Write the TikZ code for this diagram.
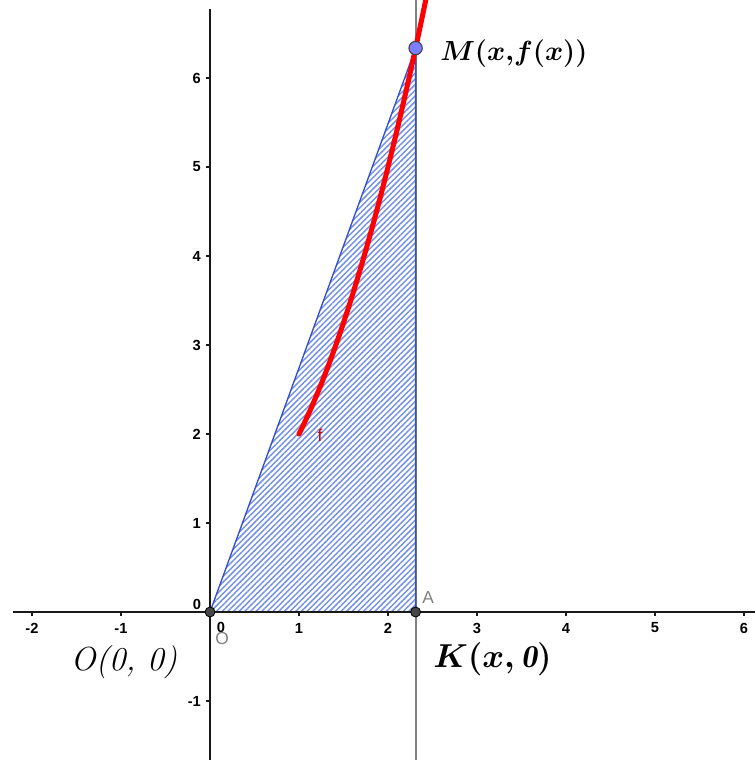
\documentclass[tikz,border=0pt]{standalone}
\usepackage{fontspec}
\newfontfamily\ggb{Liberation Sans}
\usetikzlibrary{patterns.meta}
\definecolor{hatch}{RGB}{115,145,232}
\definecolor{edgeblue}{RGB}{50,80,200}
\definecolor{mpt}{RGB}{125,125,255}
\definecolor{ptgray}{RGB}{70,70,70}
\definecolor{fred}{RGB}{255,0,0}
\begin{document}
\begin{tikzpicture}[x=66.75pt,y=66.75pt,
  axisline/.style={line width=2pt, black!90},
  tickmark/.style={line width=1.1pt, black!90},
  ticklab/.style={font=\ggb\bfseries\fontsize{11}{11}\selectfont, inner sep=0pt},
  ptlab/.style={font=\ggb\fontsize{13}{13}\selectfont, text=black!50, inner sep=0pt},
  biglab/.style={font=\fontsize{24}{24}\selectfont, inner sep=0pt},
  dotpt/.style={circle, draw=black, fill=ptgray, minimum size=7.5pt, inner sep=0pt, line width=0.6pt},
  mdot/.style={circle, draw=black!75, fill=mpt, minimum size=10pt, inner sep=0pt, line width=0.8pt}]
\useasboundingbox (-2.3596,-1.6629) rectangle (6.1124,6.8764);
\def\xk{2.31}
\coordinate (O) at (0,0);
\coordinate (A) at (\xk,0);
\coordinate (M) at (\xk,{\xk*\xk+1});
\coordinate (xl) at (-2.21,0);
\coordinate (xr) at (6.12,0);
\coordinate (yb) at (0,-1.67);
\coordinate (yt) at (0,6.775);
\coordinate (gb) at (\xk,-1.67);
\coordinate (gt) at (\xk,6.88);
% vertical gray line
\draw[black!50, line width=1.4pt] (gb) -- (gt);
% hatched region
\fill[pattern={Lines[angle=45,distance=3pt,line width=1.1pt]}, pattern color=hatch] (O) -- (A) -- (M) -- cycle;
\draw[edgeblue, line width=1pt, line join=round] (O) -- (A) -- (M) -- cycle;
% axes
\draw[axisline] (xl) -- (xr);
\draw[axisline] (yb) -- (yt);
\foreach \i in {-2,-1,1,2,3,4,5,6} {
  \draw[tickmark] (\i,0) -- (\i,-0.04);
  \node[ticklab] at (\i,-0.18) {\i};
}
\foreach \j in {-1,1,2,3,4,5,6} {
  \draw[tickmark] (0,\j) -- (-0.04,\j);
  \node[ticklab, anchor=east] at (-0.1,\j) {\j};
}
\node[ticklab] (x0) at (0.124,-0.17) {0};
\node[ticklab] (y0) at (-0.146,0.09) {0};
% curve f
\draw[fred, line width=3.8pt, line cap=round] plot[domain=1:2.43, samples=60, smooth] (\x,{\x*\x+1});
% points
\node[dotpt] (Odot) at (O) {};
\node[dotpt] (Adot) at (A) {};
\node[mdot] (Mdot) at (M) {};
% labels
\node[ptlab] (Olab) at (0.135,-0.3) {O};
\node[ptlab] (Alab) at (2.45,0.157) {A};
\node[ptlab, text=fred!80!black] (flab) at (1.236,1.99) {f};
\node[biglab, anchor=base west, font=\fontsize{22.5}{22.5}\selectfont] (Mlab) at (2.584,6.202) {{\boldmath$M(x,\!f(x))$}};
\node[biglab, anchor=base west, font=\fontsize{25}{25}\selectfont] (Olabel) at (-1.57,-0.652) {\textit{O(0, 0)}};
\node[biglab, anchor=base west] (Klabel) at (2.506,-0.629) {{\boldmath$K(x,\mathit{0})$}};
\end{tikzpicture}
\end{document}
